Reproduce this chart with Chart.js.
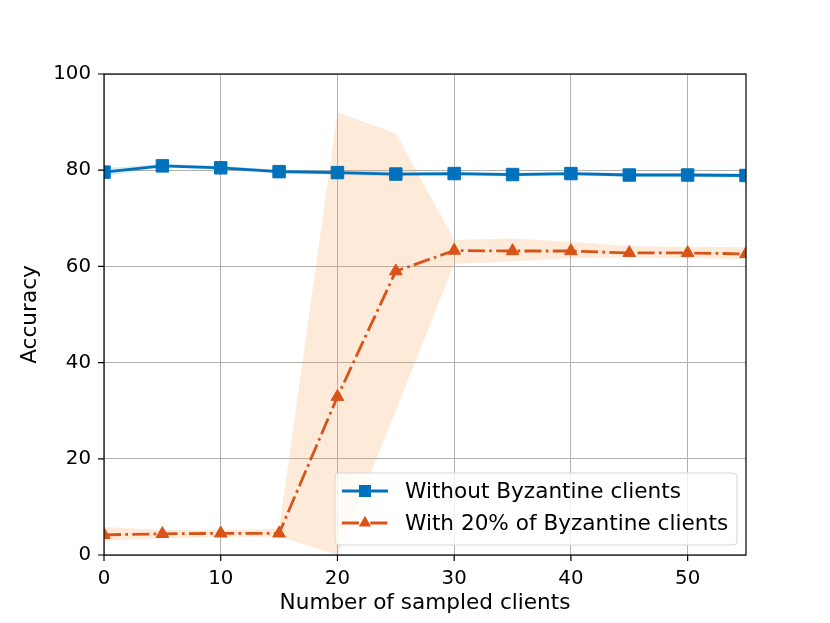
<!DOCTYPE html>
<html>
<head>
<meta charset="utf-8">
<script src="https://cdn.jsdelivr.net/npm/chart.js@4.4.1/dist/chart.umd.min.js"></script>
<style>
html,body{margin:0;padding:0;background:#fff;}
#c{display:block;}
</style>
</head>
<body>
<canvas id="c" width="830" height="623"></canvas>
<script>
// ---- data ----
const xValues = [0, 5, 10, 15, 20, 25, 30, 35, 40, 45, 50, 55];
const cleanAcc = [79.6, 80.9, 80.5, 79.7, 79.5, 79.2, 79.3, 79.1, 79.3, 79.0, 79.0, 78.9];
const cleanUpper = [80.4, 81.3, 80.9, 80.1, 80.0, 79.7, 79.7, 79.5, 79.7, 79.4, 79.4, 79.3];
const cleanLower = [78.8, 80.5, 80.1, 79.3, 79.0, 78.7, 78.9, 78.7, 78.9, 78.6, 78.6, 78.5];
const byzAcc = [4.2, 4.4, 4.5, 4.5, 32.9, 59.0, 63.3, 63.2, 63.2, 62.8, 62.8, 62.6];
const byzUpper = [5.8, 5.2, 5.2, 5.4, 92.0, 87.7, 65.5, 65.8, 65.1, 64.2, 64.1, 64.0];
const byzLower = [3.0, 3.5, 3.8, 3.8, 0.0, 30.0, 60.5, 61.0, 61.7, 61.9, 61.7, 61.5];
const xTicks = [0, 10, 20, 30, 40, 50];
const yTicks = [0, 20, 40, 60, 80, 100];
const seriesNames = ['Without Byzantine clients', 'With 20% of Byzantine clients'];
const xTitle = 'Number of sampled clients';
const yTitle = 'Accuracy';

const BLUE = 'rgb(0,114,189)';
const ORANGE = 'rgb(217,83,25)';
const FONT = '"DejaVu Sans", sans-serif';
const TICK_SIZE = 19.8;
const LABEL_SIZE = 21.6;

const pts = arr => arr.map((v, i) => ({x: xValues[i], y: v}));

const bandBase = {pointRadius: 0, borderWidth: 0, tension: 0, clip: 0};

const datasets = [
  {label: seriesNames[0], data: pts(cleanAcc), borderColor: BLUE, backgroundColor: BLUE,
   borderWidth: 2.8, pointStyle: 'rect', pointRadius: 8.8, pointBorderWidth: 1,
   pointBackgroundColor: BLUE, pointBorderColor: BLUE, fill: false, order: 0, clip: 0},
  {label: seriesNames[1], data: pts(byzAcc), borderColor: ORANGE, backgroundColor: ORANGE,
   borderWidth: 2.8, borderDash: [17, 4.3, 2.7, 4.3], pointStyle: 'triangle', pointRadius: 7.3,
   pointBorderWidth: 1, pointBackgroundColor: ORANGE, pointBorderColor: ORANGE, fill: false, order: 1, clip: 0},
  Object.assign({data: pts(cleanUpper), fill: '+1', backgroundColor: 'rgba(0,114,189,0.15)', borderColor: 'rgba(0,0,0,0)', order: 3}, bandBase),
  Object.assign({data: pts(cleanLower), fill: false, borderColor: 'rgba(0,0,0,0)', order: 3}, bandBase),
  Object.assign({data: pts(byzUpper), fill: '+1', backgroundColor: 'rgba(249,160,80,0.22)', borderColor: 'rgba(0,0,0,0)', order: 2}, bandBase),
  Object.assign({data: pts(byzLower), fill: false, borderColor: 'rgba(0,0,0,0)', order: 2}, bandBase)
];

const framePlugin = {
  id: 'frame',
  afterDatasetsDraw(chart) {
    const {ctx, chartArea: a, scales: {x, y}} = chart;
    ctx.save();
    ctx.strokeStyle = '#000';
    ctx.lineWidth = 1.2;
    ctx.strokeRect(a.left, a.top, a.right - a.left, a.bottom - a.top);
    ctx.beginPath();
    xTicks.forEach(v => { const px = x.getPixelForValue(v); ctx.moveTo(px, a.bottom); ctx.lineTo(px, a.bottom + 6); });
    yTicks.forEach(v => { const py = y.getPixelForValue(v); ctx.moveTo(a.left, py); ctx.lineTo(a.left - 6, py); });
    ctx.stroke();
    ctx.restore();
  },
  afterDraw(chart) {
    const {ctx} = chart;
    ctx.save();
    // legend box
    const bx = 335, by = 473, bw = 402, bh = 72, r = 4;
    ctx.beginPath();
    ctx.moveTo(bx + r, by);
    ctx.arcTo(bx + bw, by, bx + bw, by + bh, r);
    ctx.arcTo(bx + bw, by + bh, bx, by + bh, r);
    ctx.arcTo(bx, by + bh, bx, by, r);
    ctx.arcTo(bx, by, bx + bw, by, r);
    ctx.closePath();
    ctx.fillStyle = 'rgba(255,255,255,0.8)';
    ctx.fill();
    ctx.strokeStyle = '#d6d6d6';
    ctx.lineWidth = 1;
    ctx.stroke();
    const rows = [
      {y: 491, color: BLUE, dash: [], marker: 'rect'},
      {y: 523, color: ORANGE, dash: [17, 4.3, 2.7, 4.3], marker: 'tri'}
    ];
    rows.forEach((row, i) => {
      ctx.strokeStyle = row.color;
      ctx.lineWidth = 2.8;
      ctx.setLineDash(row.dash);
      ctx.beginPath();
      ctx.moveTo(342, row.y);
      ctx.lineTo(388, row.y);
      ctx.stroke();
      ctx.setLineDash([]);
      ctx.fillStyle = row.color;
      if (row.marker === 'rect') {
        ctx.fillRect(365 - 6, row.y - 6, 12, 12);
      } else {
        ctx.beginPath();
        ctx.moveTo(365, row.y - 7.2);
        ctx.lineTo(365 + 6.2, row.y + 3.6);
        ctx.lineTo(365 - 6.2, row.y + 3.6);
        ctx.closePath();
        ctx.fill();
      }
      ctx.fillStyle = '#000';
      ctx.font = LABEL_SIZE + 'px ' + FONT;
      ctx.textBaseline = 'middle';
      ctx.textAlign = 'left';
      ctx.fillText(seriesNames[i], 405, row.y + 1);
    });
    ctx.restore();
  }
};

new Chart(document.getElementById('c'), {
  type: 'line',
  data: {datasets},
  plugins: [framePlugin],
  options: {
    responsive: false,
    animation: false,
    devicePixelRatio: 1,
    layout: {padding: {top: 74, right: 84, left: 0, bottom: 0}},
    plugins: {legend: {display: false}, tooltip: {enabled: false}},
    elements: {line: {borderCapStyle: 'butt'}},
    scales: {
      x: {
        type: 'linear', min: 0, max: 55,
        afterFit(s) { s.height = 68; },
        afterBuildTicks(s) { s.ticks = xTicks.map(v => ({value: v})); },
        grid: {color: '#b0b0b0', lineWidth: 1, drawTicks: false},
        border: {display: false},
        ticks: {color: '#000', font: {family: FONT, size: TICK_SIZE}, padding: 12, maxRotation: 0},
        title: {display: true, text: xTitle, color: '#000', font: {family: FONT, size: LABEL_SIZE}, padding: {top: 0, bottom: 7}}
      },
      y: {
        type: 'linear', min: 0, max: 100,
        afterFit(s) { s.width = 104; },
        afterBuildTicks(s) { s.ticks = yTicks.map(v => ({value: v})); },
        grid: {color: '#b0b0b0', lineWidth: 1, drawTicks: false},
        border: {display: false},
        ticks: {color: '#000', font: {family: FONT, size: TICK_SIZE}, padding: 13},
        title: {display: true, text: yTitle, color: '#000', font: {family: FONT, size: LABEL_SIZE}, padding: {top: 17, bottom: 0}}
      }
    }
  }
});
</script>
</body>
</html>
